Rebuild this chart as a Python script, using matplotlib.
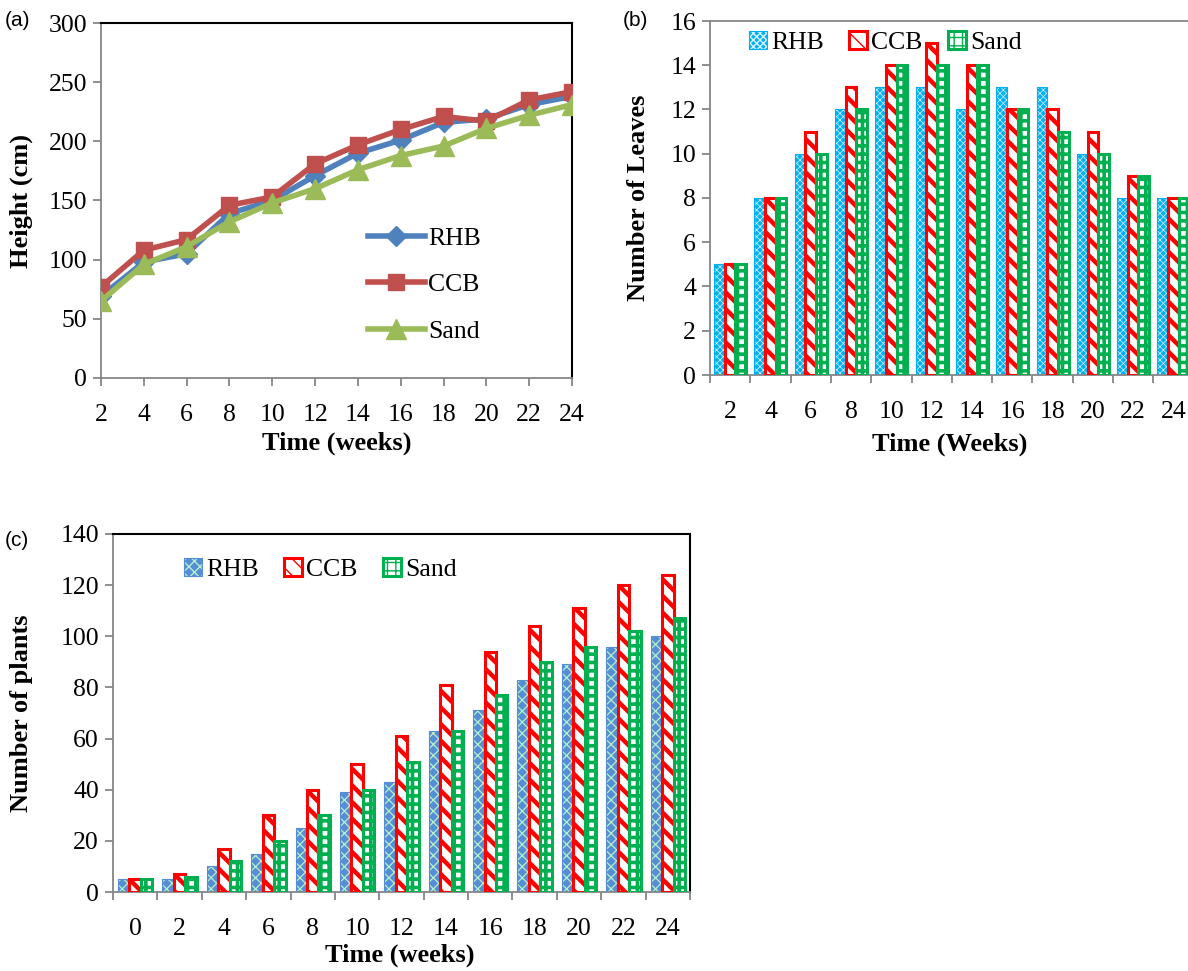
import matplotlib
matplotlib.use("Agg")
import matplotlib.pyplot as plt
import numpy as np
from matplotlib.patches import Patch
from matplotlib.legend_handler import HandlerTuple

# ---------------- data ----------------
weeks_a = [2, 4, 6, 8, 10, 12, 14, 16, 18, 20, 22, 24]
height_rhb = [69, 98, 105, 139, 150, 171, 190, 201, 216, 219, 231, 238]
height_ccb = [77, 108, 117, 146, 153, 181, 197, 210, 221, 217, 235, 242]
height_sand = [65, 96, 111, 132, 148, 160, 176, 188, 196, 211, 222, 231]

weeks_b = ["2", "4", "6", "8", "10", "12", "14", "16", "18", "20", "22", "24"]
leaves_rhb = [5, 8, 10, 12, 13, 13, 12, 13, 13, 10, 8, 8]
leaves_ccb = [5, 8, 11, 13, 14, 15, 14, 12, 12, 11, 9, 8]
leaves_sand = [5, 8, 10, 12, 14, 14, 14, 12, 11, 10, 9, 8]

weeks_c = ["0", "2", "4", "6", "8", "10", "12", "14", "16", "18", "20", "22", "24"]
plants_rhb = [5, 5, 10, 15, 25, 39, 43, 63, 71, 83, 89, 96, 100]
plants_ccb = [5, 7, 17, 30, 40, 50, 61, 81, 94, 104, 111, 120, 124]
plants_sand = [5, 6, 12, 20, 30, 40, 51, 63, 77, 90, 96, 102, 107]

series_names = ["RHB", "CCB", "Sand"]

# ---------------- style ----------------
SERIF = ["Liberation Serif", "DejaVu Serif"]
SANS = ["Liberation Sans", "DejaVu Sans"]
plt.rcParams["font.family"] = SERIF
TICK_FS = 18.5
LAB_FS = 19
GRAY = "#868686"

fig = plt.figure(figsize=(11.88, 9.71), dpi=100)
W, H = 1188.0, 971.0


def axes_px(l, t, r, b):
    return fig.add_axes([l / W, 1 - b / H, (r - l) / W, (b - t) / H])


def style_axes(ax, top_right_color):
    ax.spines["left"].set_color(GRAY)
    ax.spines["bottom"].set_color(GRAY)
    ax.spines["left"].set_linewidth(1.3)
    ax.spines["bottom"].set_linewidth(1.3)
    for s in ("top", "right"):
        if top_right_color is None:
            ax.spines[s].set_visible(False)
        else:
            ax.spines[s].set_color(top_right_color)
            ax.spines[s].set_linewidth(1.5)
    ax.tick_params(axis="both", which="both", direction="out", color=GRAY,
                   width=1.3, length=6, labelsize=TICK_FS)
    ax.tick_params(axis="x", pad=13)
    ax.tick_params(axis="y", pad=4)


# ---------------- (a) line chart ----------------
axa = axes_px(101, 23, 572, 378)
col_a = ["#4F81BD", "#C0504D", "#9BBB59"]
mk_a = ["D", "s", "^"]
ms_a = [10.5, 12, 14]
for vals, c, m, ms, name in zip([height_rhb, height_ccb, height_sand], col_a, mk_a, ms_a, series_names):
    axa.plot(weeks_a, vals, color=c, marker=m, markersize=ms, linewidth=4,
             label=name, solid_joinstyle="round", zorder=3)
axa.set_xlim(2, 24)
axa.set_ylim(0, 300)
axa.set_xticks(weeks_a)
axa.set_yticks(np.arange(0, 301, 50))
style_axes(axa, "black")
axa.set_ylabel("Height (cm)", fontsize=LAB_FS, fontweight="bold")
axa.set_xlabel("Time (weeks)", fontsize=LAB_FS, fontweight="bold")
axa.yaxis.set_label_coords(-0.144, 0.5)
axa.xaxis.set_label_coords(0.5, -0.15)
axa.legend(loc="center left", bbox_to_anchor=(0.567, 0.262), frameon=False,
           fontsize=TICK_FS, handlelength=2.2, handletextpad=0.15,
           labelspacing=0.9, borderpad=0, borderaxespad=0)
fig.text(5 / W, 1 - 20 / H, "(a)", fontsize=15, family=SANS, va="center", ha="left")


# ---------------- bar helper ----------------
def hatched_bars(ax, x, vals, width, face, hatch, hcolor, hlw, outline, olw):
    with plt.rc_context({"hatch.linewidth": hlw}):
        ax.bar(x, vals, width, color=face, edgecolor=hcolor, hatch=hatch,
               linewidth=0, zorder=2)
        h1 = Patch(facecolor=face, edgecolor=hcolor, hatch=hatch, linewidth=0)
    ax.bar(x, vals, width, fill=False, edgecolor=outline, linewidth=olw, zorder=3)
    h2 = Patch(fill=False, edgecolor=outline, linewidth=olw)
    return (h1, h2)


def bar_legend(ax, handles, anchor):
    ax.legend(handles, series_names, handler_map={tuple: HandlerTuple(ndivide=1, pad=0)},
              loc="center left", bbox_to_anchor=anchor, ncol=3, frameon=False,
              fontsize=TICK_FS, handlelength=0.7, handleheight=0.7, handletextpad=0.15,
              columnspacing=1.0, borderpad=0, borderaxespad=0)


# ---------------- (b) leaves ----------------
axb = axes_px(710, 21, 710 + 12 * 40.3, 375)
xb = np.arange(len(weeks_b))
bw = 0.265
hb = []
hb.append(hatched_bars(axb, xb - bw, leaves_rhb, bw, "#00B0F0", "xxxxx", "#D8F4FF", 0.5, "#00B0F0", 0.8))
hb.append(hatched_bars(axb, xb, leaves_ccb, bw, "white", "\\\\", "#FF0000", 3.2, "#FF0000", 2.2))
hb.append(hatched_bars(axb, xb + bw, leaves_sand, bw, "white", "++", "#00B050", 2.6, "#00B050", 2.2))
axb.set_xlim(-0.5, len(weeks_b) - 0.5)
axb.set_ylim(0, 16)
axb.set_yticks(np.arange(0, 17, 2))
axb.set_xticks(xb)
axb.set_xticklabels(weeks_b)
axb.set_xticks(np.arange(-0.5, len(weeks_b) + 0.5, 1), minor=True)
style_axes(axb, None)
axb.spines["top"].set_visible(True)
axb.spines["top"].set_color(GRAY)
axb.spines["top"].set_linewidth(1.3)
axb.tick_params(axis="x", which="major", length=0, pad=19)
axb.tick_params(axis="x", which="minor", length=6, color=GRAY, width=1.3)
axb.set_ylabel("Number of Leaves", fontsize=LAB_FS, fontweight="bold")
axb.set_xlabel("Time (Weeks)", fontsize=LAB_FS, fontweight="bold")
axb.yaxis.set_label_coords(-0.124, 0.5)
axb.xaxis.set_label_coords(0.496, -0.163)
bar_legend(axb, hb, (0.081, 0.94))
fig.text(623 / W, 1 - 20 / H, "(b)", fontsize=15, family=SANS, va="center", ha="left")

# ---------------- (c) plants ----------------
axc = axes_px(113, 534, 690, 892)
xc = np.arange(len(weeks_c))
cw = 0.258
hc = []
hc.append(hatched_bars(axc, xc - cw, plants_rhb, cw, "#558ED5", "xxx", "#B8F0C8", 0.9, "#558ED5", 0.8))
hc.append(hatched_bars(axc, xc, plants_ccb, cw, "white", "\\\\", "#FF0000", 3.2, "#FF0000", 2.2))
hc.append(hatched_bars(axc, xc + cw, plants_sand, cw, "white", "++", "#00B050", 2.6, "#00B050", 2.2))
axc.set_xlim(-0.5, len(weeks_c) - 0.5)
axc.set_ylim(0, 140)
axc.set_yticks(np.arange(0, 141, 20))
axc.set_xticks(xc)
axc.set_xticklabels(weeks_c)
axc.set_xticks(np.arange(-0.5, len(weeks_c) + 0.5, 1), minor=True)
style_axes(axc, "black")
axc.tick_params(axis="x", which="major", length=0, pad=19)
axc.tick_params(axis="x", which="minor", length=6, color=GRAY, width=1.3)
axc.set_ylabel("Number of plants", fontsize=LAB_FS, fontweight="bold")
axc.set_xlabel("Time (weeks)", fontsize=LAB_FS, fontweight="bold")
axc.yaxis.set_label_coords(-0.139, 0.5)
axc.xaxis.set_label_coords(0.497, -0.145)
bar_legend(axc, hc, (0.123, 0.902))
fig.text(5 / W, 1 - 540 / H, "(c)", fontsize=15, family=SANS, va="center", ha="left")

fig.savefig("out.png", dpi=100)
